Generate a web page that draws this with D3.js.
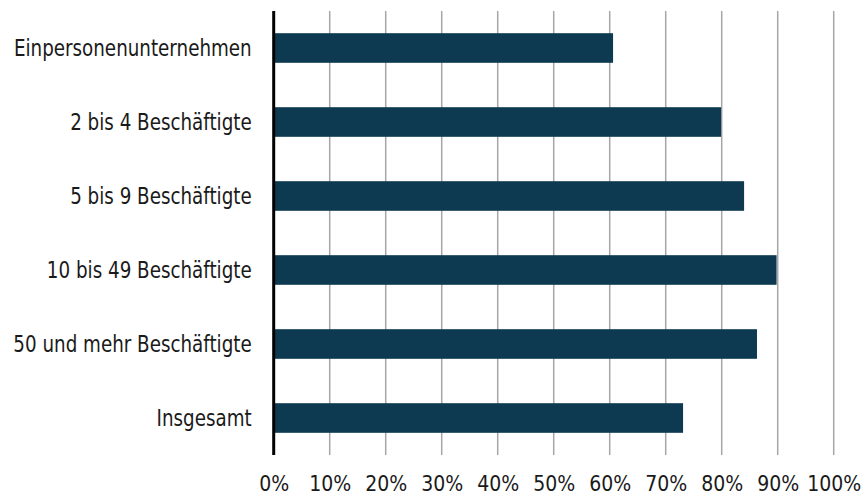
<!DOCTYPE html>
<html>
<head>
<meta charset="utf-8">
<script src="https://cdn.jsdelivr.net/npm/d3@7"></script>
<style>
  html, body { margin: 0; padding: 0; background: #ffffff; }
  svg { display: block; }
  text { font-family: "DejaVu Sans Condensed", "DejaVu Sans", sans-serif; fill: #1a1a1a; }
</style>
</head>
<body>
<svg id="chart" width="866" height="500"></svg>
<script>
// Anteil je Unternehmensgröße
const categories = [
  "Einpersonenunternehmen",
  "2 bis 4 Beschäftigte",
  "5 bis 9 Beschäftigte",
  "10 bis 49 Beschäftigte",
  "50 und mehr Beschäftigte",
  "Insgesamt"
];
const values = [60.6, 79.9, 84.0, 89.8, 86.3, 73.1];
const tickValues = [0, 10, 20, 30, 40, 50, 60, 70, 80, 90, 100];

const svg = d3.select("#chart");
const margin = { left: 273.7, right: 32.3, top: 11, bottom: 45 };
const width = 866, height = 500;

const x = d3.scaleLinear()
  .domain([0, 100])
  .range([margin.left, width - margin.right]);

const y = d3.scaleBand()
  .domain(categories)
  .range([margin.top, height - margin.bottom])
  .paddingInner(0.6)
  .paddingOuter(0.3);

// vertical gridlines
svg.append("g")
  .selectAll("line")
  .data(tickValues.filter(d => d > 0))
  .join("line")
  .attr("x1", d => x(d)).attr("x2", d => x(d))
  .attr("y1", margin.top).attr("y2", height - margin.bottom)
  .attr("stroke", "#a6a6a6")
  .attr("stroke-width", 1.5);

// bars
svg.append("g")
  .selectAll("rect")
  .data(values)
  .join("rect")
  .attr("x", x(0))
  .attr("y", (d, i) => y(categories[i]))
  .attr("width", d => x(d) - x(0))
  .attr("height", y.bandwidth())
  .attr("fill", "#0d3a51");

// category axis (narrowed glyphs for a condensed look)
const labelPad = 22, squeeze = 0.885;
const yAxis = d3.axisLeft(y).tickSize(0).tickPadding(labelPad);
const yg = svg.append("g")
  .attr("transform", `translate(${x(0)},0)`)
  .call(yAxis);
yg.select(".domain").remove();
yg.selectAll("text")
  .style("font-size", "23px")
  .attr("dy", "0.36em")
  .attr("x", -labelPad / squeeze)
  .attr("transform", `scale(${squeeze},1)`);

svg.append("line")
  .attr("x1", x(0)).attr("x2", x(0))
  .attr("y1", margin.top).attr("y2", height - margin.bottom)
  .attr("stroke", "#000")
  .attr("stroke-width", 3);

// value axis labels
const xAxis = d3.axisBottom(x)
  .tickValues(tickValues)
  .tickFormat(d => d + "%")
  .tickSize(0)
  .tickPadding(21);
const xg = svg.append("g")
  .attr("transform", `translate(0,${height - margin.bottom})`)
  .call(xAxis);
xg.select(".domain").remove();
xg.selectAll("text").style("font-size", "21px");
</script>
</body>
</html>
